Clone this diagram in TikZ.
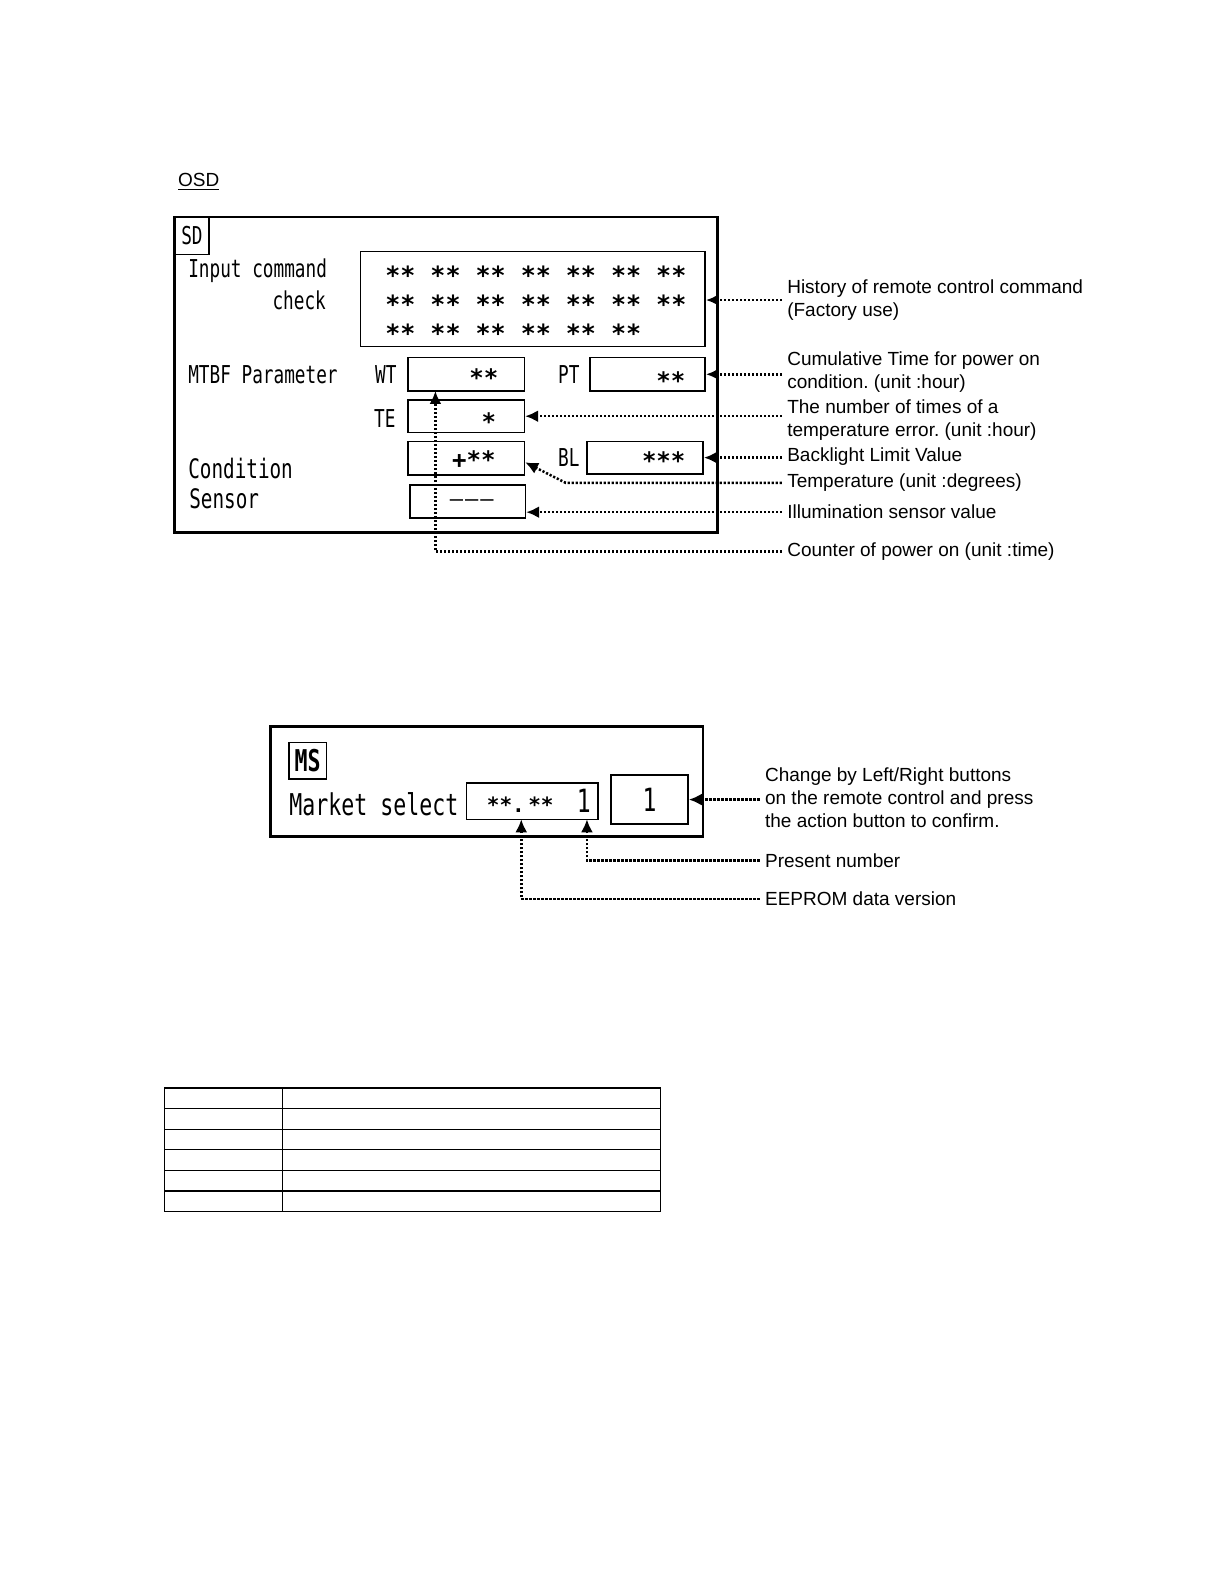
\documentclass[tikz,border=0pt]{standalone}
\usepackage{fontspec}
\setmainfont{Liberation Sans}
\newfontfamily\osdfont[FakeStretch=0.72]{DejaVu Sans Mono}
\newfontfamily\starfont{DejaVu Sans Mono}
\usetikzlibrary{arrows.meta}
\tikzset{
  osdframe/.style={draw,line width=1.3pt},
  osdbox/.style={draw,line width=0.8pt,inner sep=0pt},
  osdtext/.style={inner sep=0pt,font=\osdfont\fontsize{12.3}{14}\selectfont},
  osdcond/.style={inner sep=0pt,font=\osdfont\fontsize{13.4}{15}\selectfont},
  osdbig/.style={inner sep=0pt,font=\osdfont\fontsize{15}{17}\selectfont},
  osdsmall/.style={inner sep=0pt,font=\starfont\bfseries\fontsize{10.5}{12}\selectfont},
  starrow/.style={anchor=west,inner sep=0pt,font=\starfont\bfseries\fontsize{12.5}{14}\selectfont},
  starval/.style={inner sep=0pt,font=\starfont\bfseries\fontsize{12}{14}\selectfont},
  note/.style={anchor=west,align=left,inner xsep=2.5pt,inner ysep=0pt,
    font=\frenchspacing\fontsize{9.5}{11.5}\selectfont},
  osdarrow/.style={-{Latex[length=6.5pt,width=6pt]},line width=1.25pt,
    dash pattern=on 1.1pt off 0.9pt},
  tableline/.style={draw,line width=0.6pt}
}
\begin{document}
\begin{tikzpicture}[x=0.505pt,y=-0.505pt]
  \useasboundingbox (0,0) rectangle (1212,1568);
  \node[note,inner xsep=0pt] (osdttl) at (176,180) {\underline{OSD}};

  \draw[osdframe] (173,215) rectangle (710,527);
  \node[osdbox,osdtext,minimum width=17.2pt,minimum height=18.7pt] (sdtag) at (190,233.5) {SD};
  \node[osdtext,anchor=west] (inlbl) at (186,268) {Input command};
  \node[osdtext,anchor=east] (chklbl) at (323,297) {check};
  \node[osdtext,anchor=west] (mtbflbl) at (186,371) {MTBF Parameter};
  \node[osdcond,anchor=west] (condlbl) at (186,464) {Condition};
  \node[osdcond,anchor=west] (snslbl) at (187,494) {Sensor};

  \node[osdbox,minimum width=172.2pt,minimum height=47.5pt] (cmdbox) at (527.5,296) {};
  \node[starrow] (row1) at (381,272) {** ** ** ** ** ** **};
  \node[starrow] (row2) at (381,301) {** ** ** ** ** ** **};
  \node[starrow] (row3) at (381,330) {** ** ** ** ** **};

  \node[osdtext] (wtlbl) at (382,371) {WT};
  \node[osdtext] (ptlbl) at (563,371) {PT};
  \node[osdtext] (telbl) at (381,414) {TE};
  \node[osdtext] (bllbl) at (563,453) {BL};
  \node[osdbox,minimum width=58.1pt,minimum height=16.7pt] (wtbox) at (461.5,370.5) {};
  \node[osdbox,minimum width=57.6pt,minimum height=16.7pt] (ptbox) at (641,370.5) {};
  \node[osdbox,minimum width=58.1pt,minimum height=16.2pt] (tebox) at (461.5,412) {};
  \node[osdbox,minimum width=58.1pt,minimum height=16.7pt] (tmpbox) at (461.5,453.5) {};
  \node[osdbox,minimum width=58.1pt,minimum height=16.2pt] (blbox) at (638.5,453) {};
  \node[osdbox,minimum width=57.6pt,minimum height=16.7pt] (snsbox) at (463,496.5) {};
  \node[starval] (wtval) at (479,374) {**};
  \node[starval] (ptval) at (664,377) {**};
  \node[starval] (teval) at (484,417) {*};
  \node[starval] (tmpval) at (469,455) {+**};
  \node[starval] (blval) at (657,456) {***};
  \node[starval,font=\starfont\fontsize{11}{14}\selectfont] (snsval) at (467,498) {–\kern1pt–\kern1pt–};

  \node[note] (histtxt) at (774,297) {History of remote control command\\(Factory use)};
  \node[note] (pttxt) at (774,368) {Cumulative Time for power on\\condition. (unit :hour)};
  \node[note] (tetxt) at (774,416) {The number of times of a\\temperature error. (unit :hour)};
  \node[note] (bltxt) at (774,452) {Backlight Limit Value};
  \node[note] (temptxt) at (774,478) {Temperature (unit :degrees)};
  \node[note] (illtxt) at (774,507) {Illumination sensor value};
  \node[note] (cnttxt) at (774,546) {Counter of power on (unit :time)};
  \coordinate (tmpbend) at (560,478);
  \coordinate (wtpin) at (431,387);

  \draw[osdarrow] (histtxt.west) -- (histtxt.west -| cmdbox.east);
  \draw[osdarrow] (pttxt.west |- ptbox.east) -- (ptbox.east);
  \draw[osdarrow] (tetxt.west |- tebox.east) -- (tebox.east);
  \draw[osdarrow] (bltxt.west |- blbox.east) -- (blbox.east);
  \draw[osdarrow] (temptxt.west) -- (tmpbend) -- (tmpbox.-4);
  \draw[osdarrow] (illtxt.west) -- (illtxt.west -| snsbox.east);
  \draw[osdarrow] (cnttxt.west) -| (wtpin);

  \draw[osdframe] (268,719) rectangle (696,828);
  \node[osdbox,osdbig,font=\osdfont\bfseries\fontsize{15}{17}\selectfont,
    minimum width=18.7pt,minimum height=18.2pt] (mstag) at (304.5,753) {MS};
  \node[osdbig,anchor=west] (mslbl) at (286,796) {Market select};
  \node[osdbox,minimum width=65.7pt,minimum height=18.2pt] (valbox) at (527,793) {};
  \node[osdsmall] (verval) at (515,797) {**.\,**};
  \node[osdbig,font=\osdfont\fontsize{16}{18}\selectfont] (numval) at (578,793) {1};
  \node[osdbox,minimum width=38.4pt,minimum height=24.7pt,
    font=\osdfont\fontsize{16}{18}\selectfont] (onebox) at (643,791.5) {1};

  \node[note] (chgtxt) at (752,790) {Change by Left/Right buttons\\on the remote control and press\\the action button to confirm.};
  \node[note] (prestxt) at (752,852) {Present number};
  \node[note] (eeptxt) at (752,890) {EEPROM data version};
  \coordinate (prespin) at (581,811);
  \coordinate (eeppin) at (516,811);
  \draw[osdarrow] (chgtxt.west |- onebox.east) -- (onebox.east);
  \draw[osdarrow] (prestxt.west) -| (prespin);
  \draw[osdarrow] (eeptxt.west) -| (eeppin);

  \draw[tableline] (163,1077) rectangle (654,1199);
  \draw[tableline] (280,1077) -- (280,1199);
  \draw[tableline] (163,1097) -- (654,1097) (163,1118) -- (654,1118)
    (163,1138) -- (654,1138) (163,1159) -- (654,1159) (163,1179) -- (654,1179);
\end{tikzpicture}
\end{document}
